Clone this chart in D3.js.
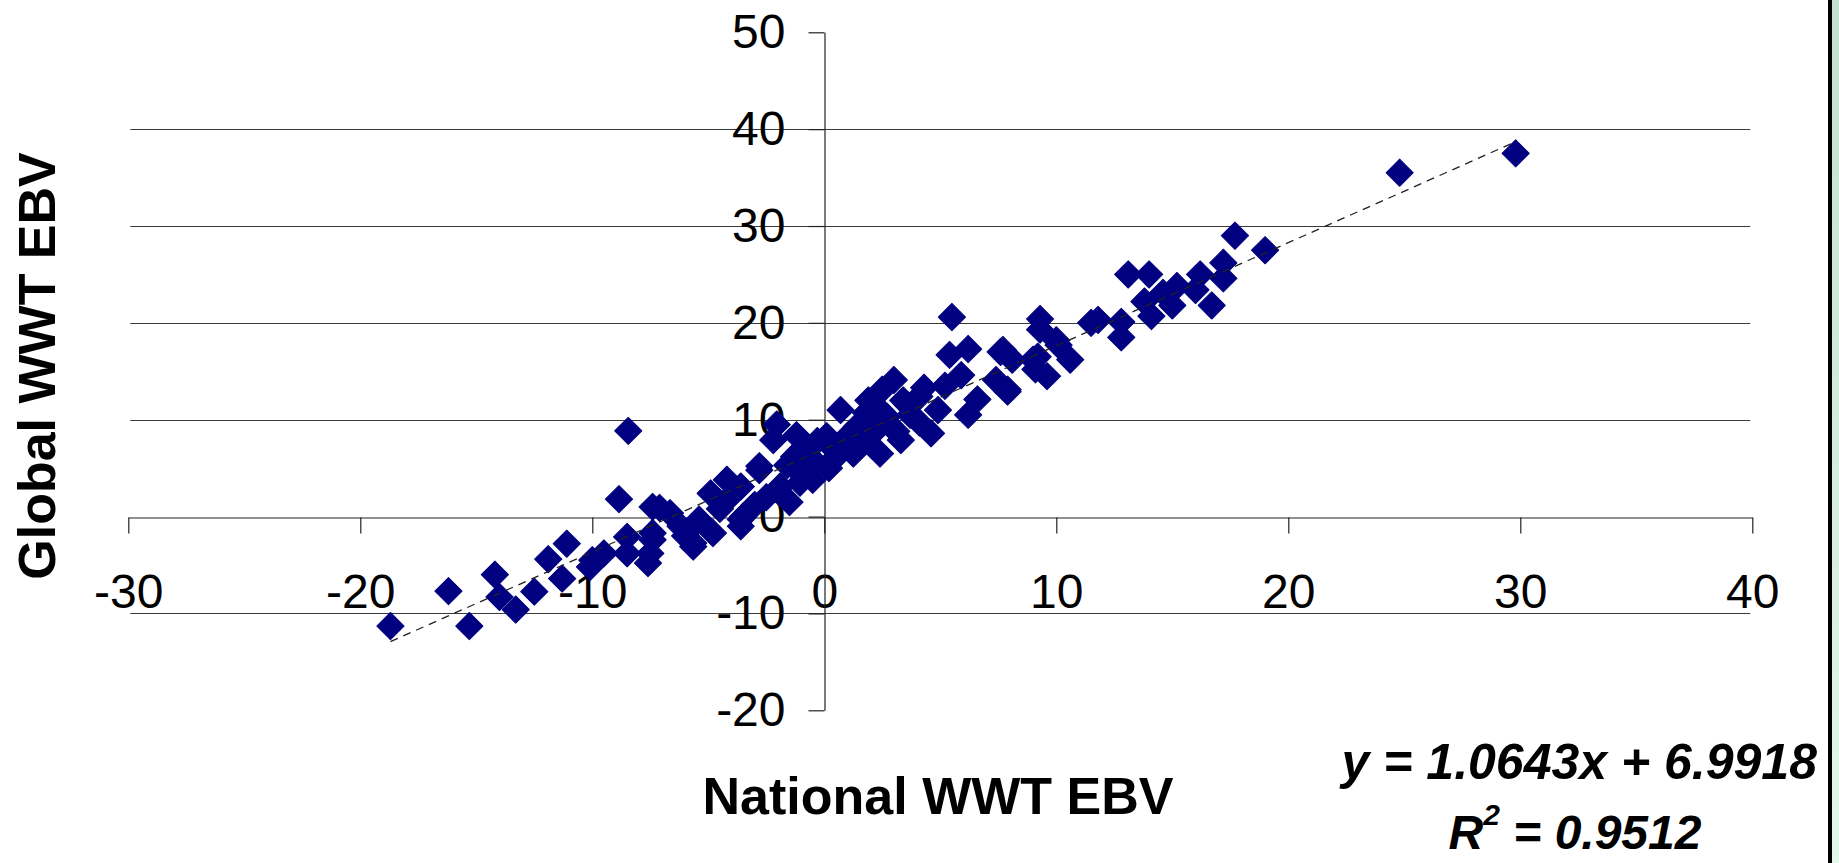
<!DOCTYPE html>
<html>
<head>
<meta charset="utf-8">
<script src="https://cdn.jsdelivr.net/npm/d3@7/dist/d3.min.js"></script>
<style>
  html, body { margin: 0; padding: 0; background: #fff; }
  svg { display: block; font-family: "Liberation Sans", Arial, sans-serif; }
</style>
</head>
<body>
<svg id="chart" width="1839" height="863"></svg>
<script>

//============================================================
// Data
//------------------------------------------------------------

var nationalEBV = [
  29.8, 24.8, 19.0, 17.7, 17.2, 17.2, 16.7, 16.2, 16.0, 15.2, 15.0, 14.6, 14.1, 14.0, 13.8,
  13.1, 12.8, 12.8, 11.8, 11.5, 10.6, 10.1, 10.0, 9.6, 9.3, 9.3, 9.2, 9.1, 9.0, 8.1,
  7.9, 7.7, 7.6, 7.4, 7.9, 6.6, 6.2, 6.2, 5.9, 5.5, 5.4, 5.2, 4.9,
  4.6, 4.1, 4.1, 3.7, 3.4, 3.3, 3.1, 3.0, 2.8, 2.5, 2.4, 2.4, 2.1, 2.0, 1.8, 1.6, 1.4,
  1.25, 1.0, 0.8, 0.7, 0.4, 0.3, 0.1, -0.3, -0.5, -0.8, -1.05, -1.05, -1.3, -1.6, -1.9,
  -2.05, -2.2, -2.8, -2.8, -3.5, -3.6, -3.6, -3.6, -4.2, -4.2, -4.9, -4.8, -5.4,
  -5.65, -5.65, -5.65, -6.2, -6.65, -7.1, -7.4, -7.4, -7.4, -7.5, -7.6, -8.5, -8.5,
  -8.85, -8.45, -9.5, -10.0, -10.1, -11.1, -11.3, -11.9, -12.5, -13.3, -14.0, -14.2,
  -15.3, -16.2, -18.7,
  -2.5, -3.0, -4.5, -1.5, -0.5, 0.2, 1.9, 3.6, 4.3, 2.7, -6.0, -1.2
];

var globalEBV = [
  37.5, 35.5, 27.5, 29.0, 26.2, 24.6, 21.8, 25.0, 23.4, 23.8, 21.8, 23.1, 20.7, 25.0, 22.2,
  25.0, 20.1, 18.5, 20.3, 20.0, 16.2, 17.7, 18.2, 14.5, 20.4, 19.3, 16.5, 15.2, 16.2, 16.2,
  13.1, 17.2, 17.0, 14.1, 12.9, 12.1, 17.3, 10.5, 14.6, 20.6, 16.7, 13.5, 11.0,
  8.6, 12.4, 9.7, 10.5, 12.0, 7.9, 8.8, 14.1, 9.5, 13.1, 11.0, 6.5, 8.6, 9.8, 10.7, 7.5, 9.3,
  6.5, 8.3, 7.0, 11.0, 5.9, 7.2, 8.3, 7.8, 5.9, 6.8, 3.5, 4.5, 6.2, 5.3, 3.1,
  9.5, 7.9, 5.2, 4.8, 0.0, 3.1, -0.3, -1.0, 3.8, 1.7, 2.4, -1.7, -0.3,
  -1.0, -3.1, -2.75, -1.0, 0.35, 0.9, 1.0, -1.7, -2.4, -3.8, -4.8, -2.1, -3.8,
  1.8, 8.85, -3.8, -4.5, -5.2, -2.8, -6.4, -4.4, -7.75, -9.6, -8.3, -6.0,
  -11.3, -7.7, -11.3,
  2.0, 1.2, 0.8, 1.5, 3.8, 5.0, 12.0, 11.5, 13.3, 10.3, -2.0, 8.4
];

// trendline as printed on the chart
var trendSlope = 1.0643,
    trendIntercept = 6.9918,
    trendR2 = 0.9512;

var xTicks = [-30, -20, -10, 0, 10, 20, 30, 40],
    yTicks = [-20, -10, 0, 10, 20, 30, 40, 50],
    gridValues = [-10, 10, 20, 30, 40];

var xTitle = 'National WWT EBV',
    yTitle = 'Global WWT EBV';

//============================================================
// Setup
//------------------------------------------------------------

var svg = d3.select('#chart');
var points = nationalEBV.map(function(d, i) { return {x: d, y: globalEBV[i]}; });

var x = d3.scaleLinear().domain([-30, 40]).range([128.3, 1752.3]),
    y = d3.scaleLinear().domain([-20, 50]).range([710.3, 32.3]);

var navy = '#000080',
    tickFont = 48;

svg.append('rect').attr('class', 'bg').attr('width', 1839).attr('height', 863).attr('fill', '#fff');

//------------------------------------------------------------
// Gridlines

svg.append('g').attr('class', 'grid')
  .selectAll('line').data(gridValues).enter().append('line')
    .attr('x1', x(-30) + 2).attr('x2', x(40) - 2)
    .attr('y1', function(d) { return Math.round(y(d)) + 0.5; })
    .attr('y2', function(d) { return Math.round(y(d)) + 0.5; })
    .attr('stroke', '#3a3a3a')
    .attr('stroke-width', 1.2);

//------------------------------------------------------------
// Axes (crossing at 0,0)

var xAxis = d3.axisBottom(x)
      .tickValues(xTicks)
      .tickSize(16)
      .tickSizeOuter(0)
      .tickPadding(40)
      .tickFormat(function(d) { return String(d); });

var yAxis = d3.axisLeft(y)
      .tickValues(yTicks)
      .tickSize(16)
      .tickSizeOuter(0)
      .tickPadding(23)
      .tickFormat(function(d) { return String(d); });

var gx = svg.append('g')
      .attr('transform', 'translate(0,' + (Math.round(y(0)) + 0.5) + ')')
      .call(xAxis);
var gy = svg.append('g')
      .attr('transform', 'translate(' + (Math.round(x(0)) + 0.5) + ',0)')
      .call(yAxis);

[gx, gy].forEach(function(g) {
  g.attr('font-family', null).attr('font-size', null);
  g.select('.domain').attr('stroke', '#222').attr('stroke-width', 1.2);
  g.selectAll('.tick line').attr('stroke', '#222').attr('stroke-width', 1.2);
  g.selectAll('.tick text')
    .attr('fill', '#000')
    .style('font-size', tickFont + 'px');
});

//------------------------------------------------------------
// Points (square diamonds)

var diamond = d3.symbol().type(d3.symbolSquare).size(370);

svg.append('g').attr('class', 'points')
  .selectAll('path').data(points).enter().append('path')
    .attr('d', diamond)
    .attr('transform', function(d) {
      return 'translate(' + x(d.x) + ',' + y(d.y) + ') rotate(45)';
    })
    .attr('fill', navy)
    .attr('stroke', navy)
    .attr('stroke-width', 1)
    .attr('stroke-linejoin', 'round');

//------------------------------------------------------------
// Trendline (drawn over the points)

var xExtent = d3.extent(nationalEBV);
svg.append('line')
  .attr('x1', x(xExtent[0])).attr('y1', y(trendSlope * xExtent[0] + trendIntercept))
  .attr('x2', x(xExtent[1])).attr('y2', y(trendSlope * xExtent[1] + trendIntercept))
  .attr('stroke', '#222')
  .attr('stroke-width', 1.3)
  .attr('stroke-dasharray', '8,6');

//------------------------------------------------------------
// Titles

svg.append('text')
  .attr('x', 938).attr('y', 814)
  .attr('text-anchor', 'middle')
  .style('font-size', '52px').style('font-weight', 'bold')
  .text(xTitle);

svg.append('text')
  .attr('transform', 'translate(55,366) rotate(-90)')
  .attr('text-anchor', 'middle')
  .style('font-size', '52px').style('font-weight', 'bold')
  .text(yTitle);

//------------------------------------------------------------
// Equation and R squared

svg.append('text')
  .attr('x', 1817).attr('y', 779)
  .attr('text-anchor', 'end')
  .style('font-size', '50px').style('font-weight', 'bold').style('font-style', 'italic')
  .text('y = ' + trendSlope.toFixed(4) + 'x + ' + trendIntercept.toFixed(4));

var r2 = svg.append('text')
  .attr('x', 1575).attr('y', 849)
  .attr('text-anchor', 'middle')
  .style('font-size', '48px').style('font-weight', 'bold').style('font-style', 'italic');
r2.append('tspan').text('R');
r2.append('tspan').attr('dy', -24).style('font-size', '30px').text('2');
r2.append('tspan').attr('dy', 24).text(' = ' + trendR2.toFixed(4));

//------------------------------------------------------------
// Right frame edge

var grad = svg.append('defs').append('linearGradient')
      .attr('id', 'edge').attr('x1', 0).attr('y1', 0).attr('x2', 0).attr('y2', 1);
grad.append('stop').attr('offset', '0%').attr('stop-color', '#c2e0d0');
grad.append('stop').attr('offset', '100%').attr('stop-color', '#e2f8ec');

svg.append('rect').attr('x', 1832).attr('y', 0).attr('width', 7).attr('height', 863).attr('fill', 'url(#edge)');
svg.append('rect').attr('x', 1828).attr('y', 0).attr('width', 4).attr('height', 863).attr('fill', '#000');

</script>
</body>
</html>
